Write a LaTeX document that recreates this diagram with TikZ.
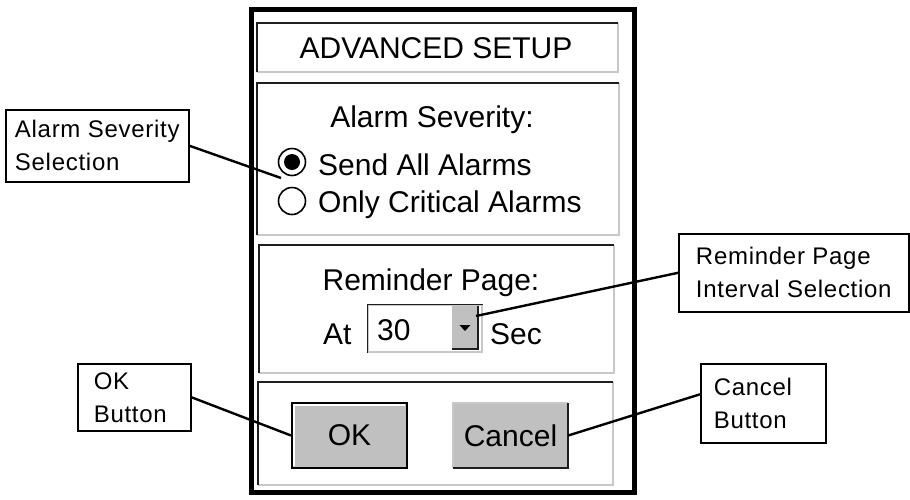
\documentclass[tikz,border=0pt]{standalone}
\usepackage{fontspec}
\setmainfont{Liberation Sans}
\newfontfamily\calloutfont[LetterSpace=3]{Liberation Sans}
\usetikzlibrary{positioning,calc}
\definecolor{btngray}{RGB}{192,192,192}
\definecolor{etchgray}{RGB}{200,200,200}
\definecolor{edgedark}{RGB}{30,30,30}
\tikzset{
	x=1pt, y=-1pt,
	callout/.style={draw, line width=1.6pt, rectangle, anchor=north west,
			inner sep=0pt, align=left, font=\calloutfont\fontsize{24}{33}\selectfont},
	pointer/.style={line width=2.4pt},
	dlgtext/.style={inner sep=0pt, anchor=base, font=\fontsize{30}{36}\selectfont},
	radio/.style={circle, draw, line width=1.6pt, minimum size=27pt, inner sep=0pt},
	radiodot/.style={circle, fill, minimum size=16pt, inner sep=0pt},
	button/.style={rectangle, fill=btngray, minimum width=115pt, minimum height=65pt,
			inner sep=0pt, font=\fontsize{30}{36}\selectfont},
	darkedge/.style={edgedark, line width=2pt},
	lightedge/.style={etchgray, line width=2pt},
}

\begin{document}
\begin{tikzpicture}
	\useasboundingbox (0,0) rectangle (910,499);
	\fill[white] (0,0) rectangle (910,499);

	% dialog frame and etched panels
	\draw[line width=5pt] (251,9.5) rectangle (634.5,492);
	\foreach \l/\t/\r/\b in {257/23/618/72, 257/83/619/235, 259/245/614/373, 258/382/613/485}{
		\draw[lightedge] (\l,\b) -- (\r,\b) -- (\r,\t);
		\draw[darkedge] (\l,\b) -- (\l,\t) -- (\r,\t);
	}

	\node[dlgtext] (title) at (436,58) {ADVANCED SETUP};

	% alarm severity
	\node[dlgtext] (sevhead) at (432,127) {Alarm Severity:};
	\node[radio] (radioall) at (292,162) {};
	\node[radiodot] at (radioall) {};
	\node[radio] (radiocrit) at (292,201) {};
	\node[dlgtext, anchor=base west] (sendall) at (318,175) {Send All Alarms};
	\node[dlgtext, anchor=base west] (critonly) at (318,212) {Only Critical Alarms};

	% reminder page
	\node[dlgtext] (remhead) at (431,290) {Reminder Page:};
	\node[dlgtext, anchor=base west] (attext) at (323,344) {At};
	\node[draw=etchgray, line width=1.5pt, fill=white, minimum width=114pt,
		minimum height=47pt, inner sep=0pt] (combo) at (425,328.5) {};
	\draw[darkedge, line width=1.5pt] (combo.south west) -- (combo.north west) -- (combo.north east);
	\node[dlgtext, anchor=base west] (secval) at (377,340) {30};
	\node[fill=btngray, minimum width=26pt, minimum height=43pt, inner sep=0pt] (drop) at (465,327.5) {};
	\draw[darkedge] (drop.north east) -- (drop.south east) -- (drop.south west);
	\fill ($(drop)+(-5.5,-2.5)$) -- ($(drop)+(5.5,-2.5)$) -- ($(drop)+(0,3.5)$) -- cycle;
	\node[dlgtext, anchor=base west] (sectext) at (490,344) {Sec};

	% buttons
	\node[button, draw=black, line width=2pt] (okbtn) at (349.5,435.5) {OK};
	\draw[white, line width=1.5pt] ($(okbtn.south west)+(3,-3)$) -- ($(okbtn.north west)+(3,3)$)
		-- ($(okbtn.north east)+(-3,3)$);
	\node[button] (cancelbtn) at (510.5,435.5) {Cancel};
	\draw[lightedge] (cancelbtn.south west) -- (cancelbtn.north west) -- (cancelbtn.north east);
	\draw[darkedge] (cancelbtn.north east) -- (cancelbtn.south east) -- (cancelbtn.south west);

	% callouts
	\node[callout, minimum width=183pt, minimum height=72pt] (selbox) at (5,109) {Alarm Severity\\Selection};
	\node[callout, minimum width=230pt, minimum height=78pt] (rembox) at (678,233) {Reminder Page\\Interval Selection};
	\node[callout, minimum width=113pt, minimum height=67pt, text width=81pt] (okbox) at (77,363) {OK\\Button};
	\node[callout, minimum width=125pt, minimum height=79pt, text width=99pt] (cancelbox) at (700,363) {Cancel\\Button};

	\coordinate (selpt) at (281,178);
	\coordinate (rempt) at (476,316);
	\draw[pointer] (selbox.east) -- (selpt);
	\draw[pointer] (rembox.west) -- (rempt);
	\draw[pointer] (okbox.east) -- (okbtn.west);
	\draw[pointer] ([yshift=9pt]cancelbox.west) -- (cancelbtn.east);
\end{tikzpicture}
\end{document}
